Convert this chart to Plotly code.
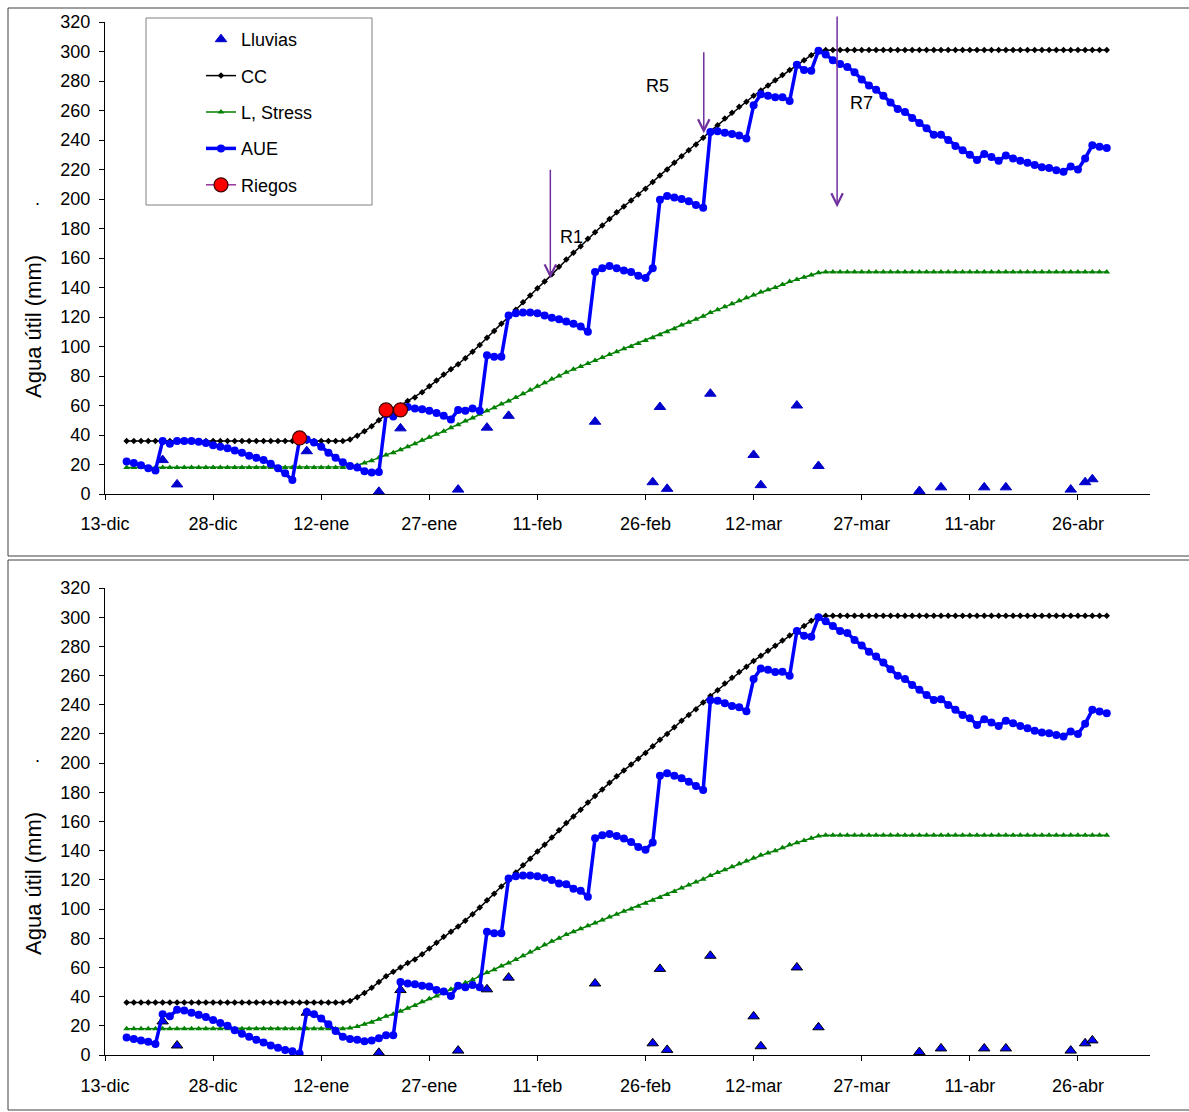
import pandas as pd
import plotly.graph_objects as go

W, H = 1189, 1112
FONT = "Liberation Sans, Arial, sans-serif"

start = "2007-12-16"

# Capacidad de campo (CC), daily from 16-dic
cc = [36, 36, 36, 36, 36, 36, 36, 36, 36, 36,
      36, 36, 36, 36, 36, 36, 36, 36, 36, 36,
      36, 36, 36, 36, 36, 36, 36, 36, 36, 36,
      36,
      37, 39.5, 42.5, 46, 50, 54, 57, 60, 63, 65.5,
      69, 73, 77, 81, 84.5, 88, 92, 96.5, 101, 106,
      110.5, 115.5, 120, 125, 130, 134.5, 139.5, 144, 149, 154,
      159, 163.5, 168, 173, 177.5, 182, 186.5, 191, 195, 199,
      203, 207, 211.5, 216, 220, 224.5, 229, 233, 237, 241.5,
      246, 250, 254.5, 258.5, 262.5, 266, 270, 273.5, 277, 280.5,
      284, 287.5, 291, 294, 297.5, 300.5,
      301, 301, 301, 301, 301, 301, 301, 301, 301, 301,
      301, 301, 301, 301, 301, 301, 301, 301, 301, 301,
      301, 301, 301, 301, 301, 301, 301, 301, 301, 301,
      301, 301, 301, 301, 301, 301, 301, 301, 301, 301]

# Limite de stress
lstress = [18, 18, 18, 18, 18, 18, 18, 18, 18, 18,
           18, 18, 18, 18, 18, 18, 18, 18, 18, 18,
           18, 18, 18, 18, 18, 18, 18, 18, 18, 18,
           18,
           18.5, 19.5, 21, 22.5, 24.5, 26.5, 28, 30, 32, 34,
           36.5, 38.5, 40.5, 42.5, 45, 47, 49.5, 51.5, 54, 56.5,
           58.5, 61, 63, 65.5, 68, 70.5, 73, 75.5, 78, 80,
           82.5, 84.5, 86.5, 88.5, 90.5, 92.5, 94.5, 96.5, 98.5, 100,
           102, 104, 106, 108, 110, 112, 114.5, 116.5, 118.5, 120.5,
           123, 125, 127, 129, 131, 133, 135, 137, 138.5, 140,
           142, 144, 145.5, 147, 148.5, 150,
           150.5, 150.5, 150.5, 150.5, 150.5, 150.5, 150.5, 150.5, 150.5, 150.5,
           150.5, 150.5, 150.5, 150.5, 150.5, 150.5, 150.5, 150.5, 150.5, 150.5,
           150.5, 150.5, 150.5, 150.5, 150.5, 150.5, 150.5, 150.5, 150.5, 150.5,
           150.5, 150.5, 150.5, 150.5, 150.5, 150.5, 150.5, 150.5, 150.5, 150.5]

# Agua util (AUE) - upper chart (with riegos)
aue_top = [22, 21, 19.5, 17.5, 16, 36, 34, 36, 36, 36,
           35.5, 34.5, 33, 32, 31, 29.5, 28, 26, 24.5, 23,
           20.5, 17.5, 14, 9.5, 37, 37, 35, 32, 28, 24.5,
           21.5, 19, 18, 15.5, 14.5, 15, 54, 52.5, 57.5, 59,
           58, 57.5, 56.5, 55, 53, 50.5, 57, 56.5, 58, 56.5,
           94, 93, 93, 121, 122.5, 123, 123, 122.5, 121, 119.5,
           118.5, 117, 115.5, 113.5, 110, 150.5, 153, 154.5, 153, 151.5,
           150.5, 148, 146.5, 153, 199.5, 202, 201, 200, 198.5, 196,
           194, 245.5, 246, 245, 244, 243, 241, 263.5, 271, 270,
           269, 269, 266.5, 291, 287.5, 287, 300.5, 298, 294, 291.5,
           289.5, 286, 281, 277, 274, 270, 265.5, 261, 259, 255,
           251.5, 248, 243.5, 243.5, 240, 236, 233, 230, 226.5, 230.5,
           228.5, 226, 229.5, 227.5, 226, 224.5, 223, 221.5, 221, 219.5,
           218.5, 222, 220, 227.5, 236.5, 235.5, 234.5]

# Agua util (AUE) - lower chart (without riegos)
aue_bot = [12, 11, 10, 9, 7.5, 28, 26.5, 31, 30.5, 29,
           27.5, 26, 24, 22, 20, 17, 14.5, 12.5, 10.5, 8.5,
           6.5, 5, 3.5, 2.5, 1, 29.5, 28, 25, 21, 16.5,
           12.5, 11, 10.5, 9.5, 10, 11.5, 13.5, 13.5, 50, 49,
           48.5, 47.5, 47, 44.5, 43.5, 40.5, 47.5, 46.5, 48, 46.5,
           84.5, 83.5, 83.5, 121, 122.5, 123, 123, 122.5, 121.5, 120,
           117.5, 117, 114, 112.5, 108.5, 148.5, 150.5, 151.5, 150, 148.3,
           146, 142.5, 140.7, 145.6, 191.4, 193.1, 191.4, 189.6, 187.3, 184.4,
           181.6, 243, 242.7, 241, 239.2, 238.3, 235.5, 257.6, 264.8, 264,
           262.5, 262.6, 259.9, 290.6, 287.3, 286.6, 300, 297.2, 294, 290.5,
           289.2, 284.4, 280.6, 276.4, 273, 268.9, 264.4, 259.8, 257.7, 253.6,
           250.2, 246.7, 243.3, 243.7, 239.9, 236.5, 233, 230.8, 226.2, 230.1,
           227.8, 225.5, 229.1, 227.3, 225.5, 223.9, 222.1, 221, 220.5, 219.3,
           218.2, 221.6, 220, 226.9, 236.5, 235.3, 234.2]

# Lluvias (rain events)
rain_dates = ["2007-12-21", "2007-12-23", "2008-01-10", "2008-01-20", "2008-01-23",
              "2008-01-31", "2008-02-04", "2008-02-07", "2008-02-19", "2008-02-27",
              "2008-02-28", "2008-02-29", "2008-03-06", "2008-03-12", "2008-03-13",
              "2008-03-18", "2008-03-21", "2008-04-04", "2008-04-07", "2008-04-13",
              "2008-04-16", "2008-04-25", "2008-04-27", "2008-04-28"]
rain_vals = [23, 6.5, 29, 1.5, 44.5, 3, 45, 53, 49, 8,
             59, 3.5, 68, 26.5, 6, 60, 19, 2, 4.5, 4.5,
             4.5, 3, 8, 10]

# Riegos (irrigations) - None separates non-consecutive days
riego_dates = ["2008-01-09", "2008-01-10", "2008-01-21", "2008-01-22", "2008-01-23"]
riego_vals = [38, None, 57, None, 57]

tick_dates = ["2007-12-13", "2007-12-28", "2008-01-12", "2008-01-27", "2008-02-11",
              "2008-02-26", "2008-03-12", "2008-03-27", "2008-04-11", "2008-04-26"]
tick_labels = ["13-dic", "28-dic", "12-ene", "27-ene", "11-feb",
               "26-feb", "12-mar", "27-mar", "11-abr", "26-abr"]
x_range = ["2007-12-13", "2008-05-06"]


def days(series):
    return pd.date_range(start, periods=len(series), freq="D")


fig = go.Figure()

for ax, aue, top in (("1", aue_top, True), ("2", aue_bot, False)):
    xa = "x" if ax == "1" else "x2"
    ya = "y" if ax == "1" else "y2"
    fig.add_trace(go.Scatter(
        x=days(cc), y=cc, name="CC", mode="lines+markers", xaxis=xa, yaxis=ya,
        line=dict(color="black", width=1.5),
        marker=dict(symbol="diamond", size=5, color="black"),
        showlegend=top, legendgroup="cc", legendrank=2))
    fig.add_trace(go.Scatter(
        x=days(lstress), y=lstress, name="L, Stress", mode="lines+markers", xaxis=xa, yaxis=ya,
        line=dict(color="#008000", width=1.5),
        marker=dict(symbol="triangle-up", size=6, color="#008000"),
        showlegend=top, legendgroup="ls", legendrank=3))
    fig.add_trace(go.Scatter(
        x=rain_dates, y=rain_vals, name="Lluvias", mode="markers", xaxis=xa, yaxis=ya,
        marker=dict(symbol="triangle-up", size=10,
                    color="#0000CC" if top else "#0000FF",
                    line=dict(color="#0000CC" if top else "black", width=1)),
        cliponaxis=False,
        showlegend=top, legendgroup="ll", legendrank=1))
    fig.add_trace(go.Scatter(
        x=days(aue), y=aue, name="AUE", mode="lines+markers", xaxis=xa, yaxis=ya,
        line=dict(color="#0000FF", width=3.5),
        marker=dict(symbol="circle", size=8, color="#0000FF"),
        showlegend=top, legendgroup="aue", legendrank=4))
    if top:
        fig.add_trace(go.Scatter(
            x=riego_dates, y=riego_vals, name="Riegos", mode="lines+markers",
            xaxis=xa, yaxis=ya, connectgaps=False,
            line=dict(color="#993399", width=1.5),
            marker=dict(symbol="circle", size=14, color="#FF0000",
                        line=dict(color="#400000", width=1.2)),
            showlegend=True, legendgroup="rg", legendrank=5))


def px_x(p):
    return p / W


def px_y(p):
    return 1 - p / H


axis_common = dict(showline=True, linecolor="black", linewidth=1, ticks="outside",
                   ticklen=5, tickwidth=1, tickcolor="black", showgrid=False,
                   zeroline=False, automargin=False,
                   tickfont=dict(family=FONT, size=18, color="black"))

xdom = [px_x(105), px_x(1150)]
fig.update_layout(
    template="none",
    width=W, height=H, autosize=False,
    margin=dict(l=0, r=0, t=0, b=0, pad=0),
    paper_bgcolor="white", plot_bgcolor="white",
    font=dict(family=FONT, size=18, color="black"),
    xaxis=dict(domain=xdom, anchor="y", type="date", range=x_range,
               tickmode="array", tickvals=tick_dates, ticktext=tick_labels,
               ticklabelstandoff=8, **axis_common),
    yaxis=dict(domain=[px_y(494), px_y(22)], anchor="x", range=[0, 320],
               tick0=0, dtick=20, ticklabelstandoff=5, **axis_common),
    xaxis2=dict(domain=xdom, anchor="y2", type="date", range=x_range,
                tickmode="array", tickvals=tick_dates, ticktext=tick_labels,
                ticklabelstandoff=9, **axis_common),
    yaxis2=dict(domain=[px_y(1055), px_y(588)], anchor="x2", range=[0, 320],
                tick0=0, dtick=20, ticklabelstandoff=5, **axis_common),
    legend=dict(x=px_x(201), y=px_y(21), xanchor="left", yanchor="top",
                bgcolor="rgba(0,0,0,0)", borderwidth=0,
                font=dict(family=FONT, size=18, color="black"),
                tracegroupgap=10, traceorder="grouped", itemwidth=30),
    showlegend=True,
)

shapes = [
    # panel frames
    dict(type="rect", xref="paper", yref="paper", x0=px_x(8), x1=px_x(1200),
         y0=px_y(556), y1=px_y(8), line=dict(color="#404040", width=1), layer="below"),
    dict(type="rect", xref="paper", yref="paper", x0=px_x(8), x1=px_x(1200),
         y0=px_y(1110), y1=px_y(560), line=dict(color="#404040", width=1), layer="below"),
    # legend box
    dict(type="rect", xref="paper", yref="paper", x0=px_x(146), x1=px_x(372),
         y0=px_y(205), y1=px_y(18), line=dict(color="#808080", width=1),
         fillcolor="white", layer="below"),
]
fig.update_layout(shapes=shapes)

annotations = []
for cy, dot in ((327, 205), (884, 762)):
    annotations.append(dict(xref="paper", yref="paper", x=px_x(33), y=px_y(cy),
                            text="Agua útil (mm)", textangle=-90, showarrow=False,
                            font=dict(family=FONT, size=22, color="black"),
                            xanchor="center", yanchor="middle"))
    annotations.append(dict(xref="paper", yref="paper", x=px_x(37), y=px_y(dot - 6),
                            text=".", showarrow=False,
                            font=dict(family=FONT, size=18, color="black"),
                            xanchor="center", yanchor="middle"))

arrows = [("2008-02-12 19:00", 146.2, 220.8), ("2008-03-05 02:00", 244.6, 300.5),
          ("2008-03-23 14:00", 194.4, 324.7)]
for xd, tip, tail in arrows:
    annotations.append(dict(xref="x", yref="y", x=xd, y=tip, axref="x", ayref="y",
                            ax=xd, ay=tail, text="", showarrow=True, arrowhead=5,
                            arrowsize=1.5, arrowwidth=1.5, arrowcolor="#7030A0"))
labels = [("R1", "2008-02-15 17:00", 174), ("R5", "2008-02-27 17:00", 276.5),
          ("R7", "2008-03-27 00:00", 265)]
for t, xd, yv in labels:
    annotations.append(dict(xref="x", yref="y", x=xd, y=yv, text=t, showarrow=False,
                            font=dict(family=FONT, size=18, color="black")))
fig.update_layout(annotations=annotations)

fig.write_html("out.html")
